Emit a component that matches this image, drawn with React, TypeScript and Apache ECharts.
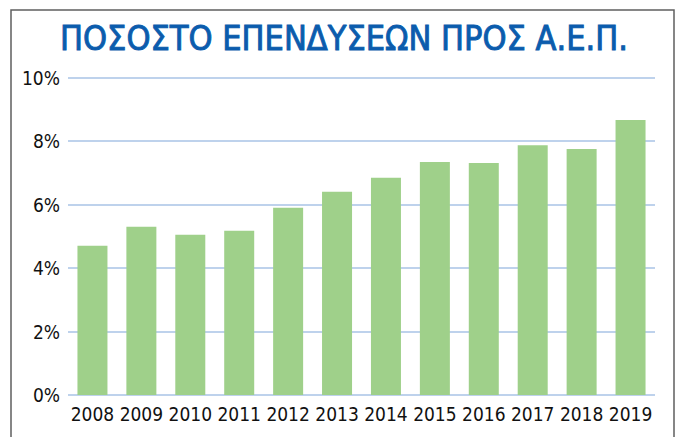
import React, { useEffect, useRef } from "react";
import * as echarts from "echarts";

const TITLE = "ΠΟΣΟΣΤΟ ΕΠΕΝΔΥΣΕΩΝ ΠΡΟΣ Α.Ε.Π.";
const years = ["2008", "2009", "2010", "2011", "2012", "2013", "2014", "2015", "2016", "2017", "2018", "2019"];
const investmentPct = [4.7, 5.3, 5.05, 5.17, 5.9, 6.4, 6.84, 7.34, 7.31, 7.87, 7.75, 8.66];
const yTicks = { min: 0, max: 10, interval: 2 };

const FONT = "'DejaVu Sans Condensed', 'Liberation Sans', sans-serif";

export default function App() {
  const ref = useRef<HTMLDivElement>(null);
  useEffect(() => {
    if (!ref.current) return;
    const chart = echarts.init(ref.current, null, { renderer: "svg" });
    chart.setOption({
      animation: false,
      backgroundColor: "#ffffff",
      grid: { left: 68, right: 25, top: 77.5, bottom: 42, outerBoundsMode: "none" },
      graphic: [
        {
          type: "rect",
          shape: { x: 11, y: 10, width: 663, height: 440 },
          style: { fill: "none", stroke: "#5f5f5f", lineWidth: 1.5 },
          silent: true,
        },
        {
          type: "text",
          x: 344,
          y: 38,
          style: {
            text: TITLE,
            fill: "#0B5CAD",
            stroke: "#0B5CAD",
            lineWidth: 0.9,
            font: `34px ${FONT}`,
            textAlign: "center",
            textVerticalAlign: "middle",
          },
        },
      ],
      xAxis: {
        type: "category",
        data: years,
        axisLine: { show: false },
        axisTick: { show: false },
        axisLabel: { color: "#111", fontSize: 19, fontFamily: FONT, margin: 9, interval: 0 },
      },
      yAxis: {
        type: "value",
        min: yTicks.min,
        max: yTicks.max,
        interval: yTicks.interval,
        axisLine: { show: false },
        axisTick: { show: false },
        axisLabel: { color: "#111", fontSize: 19, fontFamily: FONT, margin: 8, formatter: "{value}%" },
        splitLine: { lineStyle: { color: "#A9C3E6", width: 1.5 } },
      },
      series: [
        {
          type: "bar",
          data: investmentPct,
          barWidth: 30,
          itemStyle: { color: "#9FD08A" },
        },
      ],
    });
    return () => chart.dispose();
  }, []);
  return (
    <div style={{ position: "absolute", left: 0, top: 0, width: 680, height: 437 }}>
      <div ref={ref} style={{ width: 680, height: 437 }} />
    </div>
  );
}
